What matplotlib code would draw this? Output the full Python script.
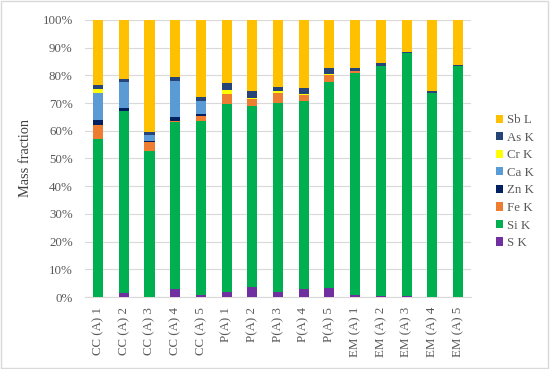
import matplotlib.pyplot as plt
import numpy as np

samples = ["CC (A) 1", "CC (A) 2", "CC (A) 3", "CC (A) 4", "CC (A) 5",
           "P(A) 1", "P(A) 2", "P(A) 3", "P(A) 4", "P(A) 5",
           "EM (A) 1", "EM (A) 2", "EM (A) 3", "EM (A) 4", "EM (A) 5"]

# percent values, bottom to top
s_k  = [0.0, 1.6, 0.0, 3.0, 0.7, 2.0, 3.8, 1.8, 3.0, 3.4, 0.6, 0.2, 0.2, 0.0, 0.0]
si_k = [57.0, 65.7, 52.8, 60.1, 62.9, 67.8, 65.0, 68.2, 67.7, 74.2, 80.4, 83.0, 87.7, 73.6, 83.2]
fe_k = [5.0, 0.0, 3.1, 0.3, 1.8, 3.6, 2.7, 3.7, 2.3, 2.4, 0.5, 0.3, 0.0, 0.0, 0.0]
zn_k = [1.8, 0.8, 0.3, 1.4, 0.6, 0.0, 0.0, 0.0, 0.0, 0.0, 0.0, 0.0, 0.0, 0.0, 0.0]
ca_k = [9.9, 9.4, 2.3, 13.3, 4.8, 0.0, 0.0, 0.0, 0.0, 0.0, 0.0, 0.0, 0.0, 0.0, 0.0]
cr_k = [1.5, 0.0, 0.0, 0.0, 0.0, 1.4, 0.5, 0.5, 0.4, 0.5, 0.0, 0.0, 0.0, 0.0, 0.0]
as_k = [1.2, 1.3, 1.1, 1.2, 1.4, 2.6, 2.2, 1.6, 2.0, 2.0, 1.1, 1.1, 0.4, 0.8, 0.7]
sb_l = [23.6, 21.2, 40.4, 20.7, 27.8, 22.6, 25.8, 24.2, 24.6, 17.5, 17.4, 15.4, 11.7, 25.6, 16.1]

series = [("S K", s_k, "#7030A0"), ("Si K", si_k, "#00B050"), ("Fe K", fe_k, "#ED7D31"),
          ("Zn K", zn_k, "#002060"), ("Ca K", ca_k, "#5B9BD5"), ("Cr K", cr_k, "#FFFF00"),
          ("As K", as_k, "#264478"), ("Sb L", sb_l, "#FFC000")]

plt.rcParams['font.family'] = ['Liberation Serif', 'DejaVu Serif']
FS = 9.3

fig = plt.figure(figsize=(5.5, 3.69), dpi=100)
ax = fig.add_axes([0.155, 0.195, 0.701, 0.751])

x = np.arange(len(samples))
bottom = np.zeros(len(samples))
handles = []
for name, vals, col in series:
    v = np.array(vals) / 100.0
    h = ax.bar(x, v, 0.39, bottom=bottom, color=col, label=name, zorder=3)
    handles.append(h)
    bottom += v

ax.set_xlim(-0.5, len(samples) - 0.5)
ax.set_ylim(0, 1)
ax.set_yticks(np.arange(0, 1.01, 0.1))
ax.set_yticklabels([f"{int(round(t * 100))}%" for t in np.arange(0, 1.01, 0.1)])
ax.yaxis.grid(True, color="#D9D9D9", linewidth=0.8, zorder=0)
ax.set_xticks(x)
ax.set_xticklabels(samples, rotation=90)
ax.tick_params(axis="both", length=0, colors="#595959", labelsize=FS)
ax.tick_params(axis="x", pad=7)
ax.tick_params(axis="y", pad=9)
for side in ["top", "right", "left"]:
    ax.spines[side].set_visible(False)
ax.spines["bottom"].set_color("#D9D9D9")
ax.set_ylabel("Mass fraction", fontsize=10.3, color="#404040", labelpad=1)
ax.yaxis.set_label_coords(-0.138, 0.5)

leg = fig.legend(handles[::-1], [s[0] for s in series][::-1], loc="upper left",
                 bbox_to_anchor=(0.88, 0.722), frameon=False, fontsize=FS,
                 handlelength=0.6, handleheight=0.6, handletextpad=0.3,
                 labelspacing=0.43)
for t in leg.get_texts():
    t.set_color("#595959")

fig.patches.append(plt.Rectangle((0.002, 0.003), 0.995, 0.993, transform=fig.transFigure,
                                 fill=False, edgecolor="#D9D9D9", linewidth=1))

fig.savefig("out.png", dpi=100)
